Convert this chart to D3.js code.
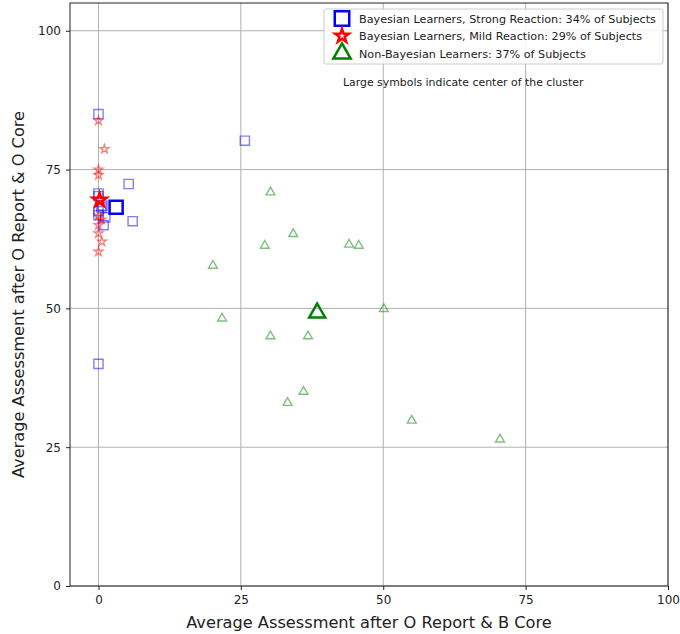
<!DOCTYPE html>
<html>
<head>
<meta charset="utf-8">
<script src="https://cdn.jsdelivr.net/npm/d3@7"></script>
<style>
  body { margin: 0; background: #fff; }
  svg text { font-family: "DejaVu Sans", sans-serif; }
</style>
</head>
<body>
<svg id="chart"></svg>
<script>
// cluster members: [x, y]
const strongX = [0, 0, 5.3, 25.7, 6, 0, 0, 1.2, 0.9, 0, 0, 0.5, 0.7];
const strongY = [85, 70.7, 72.4, 80.2, 65.7, 40, 66.8, 66.4, 65, 70.2, 67.5, 68.2, 68.5];
const mildX = [0, 1.05, 0, 0, 0, 0, 0, 0, 0, 0.5, 0.6];
const mildY = [83.8, 78.7, 75, 74, 69.7, 66.7, 65, 63.5, 60.2, 66, 62];
const nonX = [29.2, 44, 45.7, 20.1, 21.7, 30.2, 36.8, 36, 33.2, 30.2, 34.2, 50.1, 55, 70.5];
const nonY = [61.3, 61.5, 61.3, 57.7, 48.2, 45, 45, 35, 33, 70.9, 63.4, 49.9, 29.8, 26.4];
const centers = [[3.1, 68.2], [0.2, 69.5], [38.4, 49.2]];
const legendLabels = [
  "Bayesian Learners, Strong Reaction: 34% of Subjects",
  "Bayesian Learners, Mild Reaction: 29% of Subjects",
  "Non-Bayesian Learners: 37% of Subjects"
];
const xTicks = [0, 25, 50, 75, 100];
const yTicks = [0, 25, 50, 75, 100];

const W = 680, H = 634;
const m = { left: 70, right: 12, top: 3, bottom: 48 };
const w = W - m.left - m.right, h = H - m.top - m.bottom;

const svg = d3.select('#chart').attr('width', W).attr('height', H);
const g = svg.append('g').attr('transform', `translate(${m.left},${m.top})`);

const x = d3.scaleLinear().domain([-5, 100]).range([0, w]);
const y = d3.scaleLinear().domain([0, 105]).range([h, 0]);

// grid
g.append('g').selectAll('line').data(xTicks).join('line')
  .attr('x1', d => x(d)).attr('x2', d => x(d)).attr('y1', 0).attr('y2', h)
  .attr('stroke', '#b0b0b0').attr('stroke-width', 1);
g.append('g').selectAll('line').data(yTicks).join('line')
  .attr('x1', 0).attr('x2', w).attr('y1', d => y(d)).attr('y2', d => y(d))
  .attr('stroke', '#b0b0b0').attr('stroke-width', 1);

// axes
const xAxis = g.append('g').attr('transform', `translate(0,${h})`)
  .call(d3.axisBottom(x).tickValues(xTicks).tickSize(4).tickPadding(5));
const yAxis = g.append('g')
  .call(d3.axisLeft(y).tickValues(yTicks).tickSize(4).tickPadding(5));
[xAxis, yAxis].forEach(a => {
  a.select('.domain').remove();
  a.selectAll('text').style('font-size', '12px').attr('fill', '#222');
  a.selectAll('line').attr('stroke', '#222');
});

g.append('rect').attr('width', w).attr('height', h)
  .attr('fill', 'none').attr('stroke', '#222').attr('stroke-width', 1);

const colors = ['#0000ff', '#ff0000', '#008000'];
const shapes = [d3.symbolSquare, d3.symbolStar, d3.symbolTriangle];
const smallSize = [85, 24, 34];
const bigSize = [170, 60, 110];

const groups = [
  d3.zip(strongX, strongY),
  d3.zip(mildX, mildY),
  d3.zip(nonX, nonY)
];

groups.forEach((pts, i) => {
  g.append('g').selectAll('path').data(pts).join('path')
    .attr('d', d3.symbol().type(shapes[i]).size(smallSize[i]))
    .attr('transform', d => `translate(${x(d[0])},${y(d[1])})`)
    .attr('fill', 'none').attr('stroke', colors[i])
    .attr('stroke-opacity', 0.5).attr('stroke-width', 1.4);
});

centers.forEach((c, i) => {
  g.append('path')
    .attr('d', d3.symbol().type(shapes[i]).size(bigSize[i])())
    .attr('transform', `translate(${x(c[0])},${y(c[1])})`)
    .attr('fill', 'none').attr('stroke', colors[i]).attr('stroke-width', 2.5);
});

// legend
const lg = svg.append('g').attr('transform', 'translate(324,9)');
lg.append('rect').attr('width', 339).attr('height', 55).attr('rx', 2)
  .attr('fill', 'white').attr('fill-opacity', 0.85)
  .attr('stroke', '#ccc');
const legSize = [210, 58, 130];
legendLabels.forEach((t, i) => {
  const row = lg.append('g').attr('transform', `translate(0,${9.5 + i * 17.5})`);
  row.append('path')
    .attr('d', d3.symbol().type(shapes[i]).size(legSize[i])())
    .attr('transform', 'translate(18,0)')
    .attr('fill', 'none').attr('stroke', colors[i]).attr('stroke-width', 2.5);
  row.append('text').attr('x', 35).attr('y', 4)
    .style('font-size', '11.2px').attr('fill', '#222').text(t);
});

svg.append('text').attr('x', 343).attr('y', 86)
  .style('font-size', '10.9px').attr('fill', '#222')
  .text('Large symbols indicate center of the cluster');

// axis titles
svg.append('text').attr('x', 369).attr('y', 628)
  .attr('text-anchor', 'middle').style('font-size', '16.2px').attr('fill', '#222')
  .text('Average Assessment after O Report & B Core');
svg.append('text')
  .attr('transform', `translate(24,${m.top + h / 2}) rotate(-90)`)
  .attr('text-anchor', 'middle').style('font-size', '16.2px').attr('fill', '#222')
  .text('Average Assessment after O Report & O Core');
</script>
</body>
</html>
